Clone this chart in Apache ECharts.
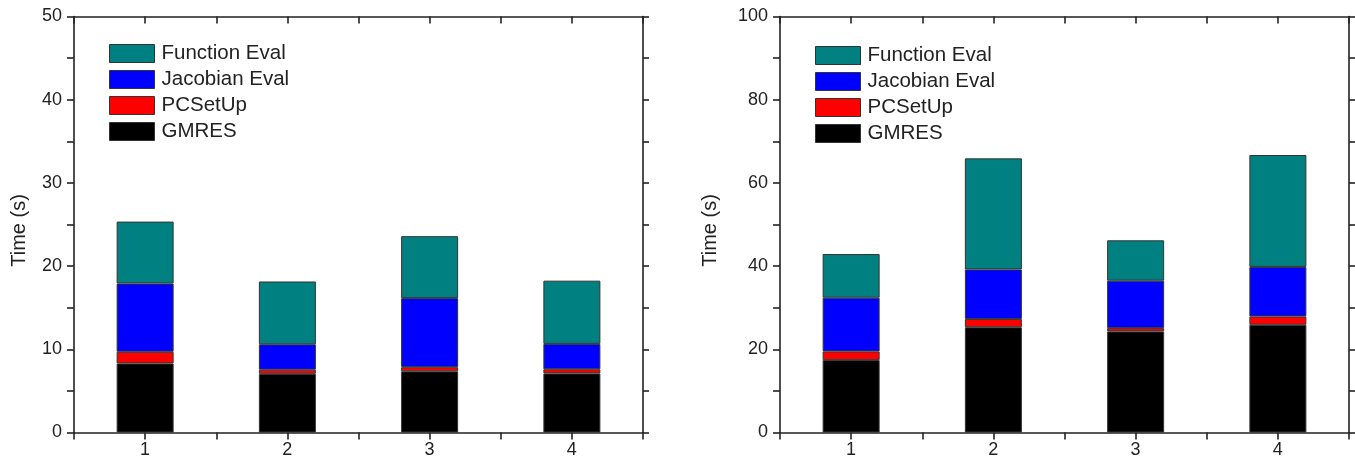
<!DOCTYPE html>
<html>
<head>
<meta charset="utf-8">
<script src="https://cdn.jsdelivr.net/npm/echarts@6/dist/echarts.min.js"></script>
<style>
  html, body { margin: 0; padding: 0; background: #fff; }
  #chart { width: 1355px; height: 462px; }
</style>
</head>
<body>
<div id="chart"></div>
<script>
// ---- data ----
const categories = ['1', '2', '3', '4'];
const seriesNames = ['GMRES', 'PCSetUp', 'Jacobian Eval', 'Function Eval'];
const legendOrder = ['Function Eval', 'Jacobian Eval', 'PCSetUp', 'GMRES'];

const leftGMRES    = [8.3, 7.05, 7.35, 7.1];
const leftPCSetUp  = [1.4, 0.5, 0.5, 0.5];
const leftJacobian = [8.2, 3.05, 8.3, 3.05];
const leftFunction = [7.45, 7.55, 7.45, 7.6];

const rightGMRES    = [17.4, 25.3, 24.3, 25.9];
const rightPCSetUp  = [2.1, 2.0, 0.8, 2.0];
const rightJacobian = [12.9, 11.9, 11.4, 11.9];
const rightFunction = [10.5, 26.7, 9.7, 26.9];

const leftYMax = 50, leftYStep = 10;
const rightYMax = 100, rightYStep = 20;
const axisTitle = 'Time (s)';

const colors = {
  'GMRES': '#000000',
  'PCSetUp': '#ff0000',
  'Jacobian Eval': '#0000ff',
  'Function Eval': '#008080'
};

// ---- build ----
const FONT = 'Liberation Sans, Arial, sans-serif';
const TXT = '#222';
const LINE = { lineStyle: { color: '#222', width: 1.6 } };
const NCAT = categories.length;

// value axis used only for ticks/labels (0.5 .. 4.5 in category units)
function bottomX(gi) {
  return {
    type: 'value', gridIndex: gi, position: 'bottom',
    min: 0.5, max: NCAT + 0.5, interval: 0.5,
    axisLine: { show: true, onZero: false, ...LINE },
    axisTick: { show: true, length: 7, inside: false, ...LINE },
    axisLabel: {
      fontFamily: FONT, fontSize: 18, color: TXT, margin: 9,
      formatter: v => Number.isInteger(v) ? categories[v - 1] : ''
    },
    splitLine: { show: false }
  };
}
function topX(gi) {
  return {
    type: 'value', gridIndex: gi, position: 'top',
    min: 0.5, max: NCAT + 0.5, interval: 0.5,
    axisLine: { show: true, onZero: false, ...LINE },
    axisTick: { show: true, length: 7, inside: true, ...LINE },
    axisLabel: { show: false },
    splitLine: { show: false }
  };
}
// hidden category axis carrying the bars
function catX(gi) {
  return {
    type: 'category', gridIndex: gi, position: 'bottom', data: categories,
    boundaryGap: true, show: false
  };
}
function leftY(gi, max, step, gap) {
  return {
    type: 'value', gridIndex: gi, position: 'left',
    min: 0, max: max, interval: step,
    name: axisTitle, nameLocation: 'middle', nameGap: gap,
    nameTextStyle: { fontFamily: FONT, fontSize: 20, color: TXT, padding: [0, 12, 0, 0] },
    axisLine: { show: true, onZero: false, ...LINE },
    axisTick: { show: true, length: 7, inside: false, ...LINE },
    minorTick: { show: true, splitNumber: 2, length: 7, lineStyle: { color: '#222', width: 1.6 } },
    axisLabel: { fontFamily: FONT, fontSize: 18, color: TXT, margin: 12 },
    splitLine: { show: false }, minorSplitLine: { show: false }
  };
}
function rightY(gi, max, step) {
  return {
    type: 'value', gridIndex: gi, position: 'right',
    min: 0, max: max, interval: step,
    axisLine: { show: true, onZero: false, ...LINE },
    axisTick: { show: true, length: 6, inside: false, ...LINE },
    minorTick: { show: true, splitNumber: 2, length: 6, lineStyle: { color: '#222', width: 1.6 } },
    axisLabel: { show: false },
    splitLine: { show: false }, minorSplitLine: { show: false }
  };
}

function makeSeries(gi, valuesByName) {
  return seriesNames.map(name => ({
    name: name, type: 'bar',
    xAxisIndex: gi * 3 + 2, yAxisIndex: gi * 2,
    stack: 'g' + gi,
    barWidth: 57,
    itemStyle: { color: colors[name], borderColor: '#333', borderWidth: 1 },
    data: valuesByName[name]
  }));
}

function makeLegend(left, top) {
  return {
    orient: 'vertical', left: left, top: top, padding: 0,
    data: legendOrder, icon: 'rect',
    itemWidth: 45, itemHeight: 18, itemGap: 5,
    selectedMode: false,
    itemStyle: { borderColor: '#333', borderWidth: 1 },
    textStyle: { fontFamily: FONT, fontSize: 20.5, color: TXT, padding: [0, 0, 0, 2] }
  };
}

const option = {
  backgroundColor: '#fff',
  animation: false,
  grid: [
    { left: 74, top: 16.5, width: 569, height: 416 },
    { left: 780, top: 16.5, width: 569, height: 416 }
  ],
  xAxis: [bottomX(0), topX(0), catX(0), bottomX(1), topX(1), catX(1)],
  yAxis: [leftY(0, leftYMax, leftYStep, 45), rightY(0, leftYMax, leftYStep),
          leftY(1, rightYMax, rightYStep, 60), rightY(1, rightYMax, rightYStep)],
  legend: [makeLegend(109, 43), makeLegend(815, 45)],
  series: [
    ...makeSeries(0, {
      'GMRES': leftGMRES, 'PCSetUp': leftPCSetUp,
      'Jacobian Eval': leftJacobian, 'Function Eval': leftFunction
    }),
    ...makeSeries(1, {
      'GMRES': rightGMRES, 'PCSetUp': rightPCSetUp,
      'Jacobian Eval': rightJacobian, 'Function Eval': rightFunction
    })
  ]
};

const chart = echarts.init(document.getElementById('chart'), null, { renderer: 'canvas' });
chart.setOption(option);
</script>
</body>
</html>
